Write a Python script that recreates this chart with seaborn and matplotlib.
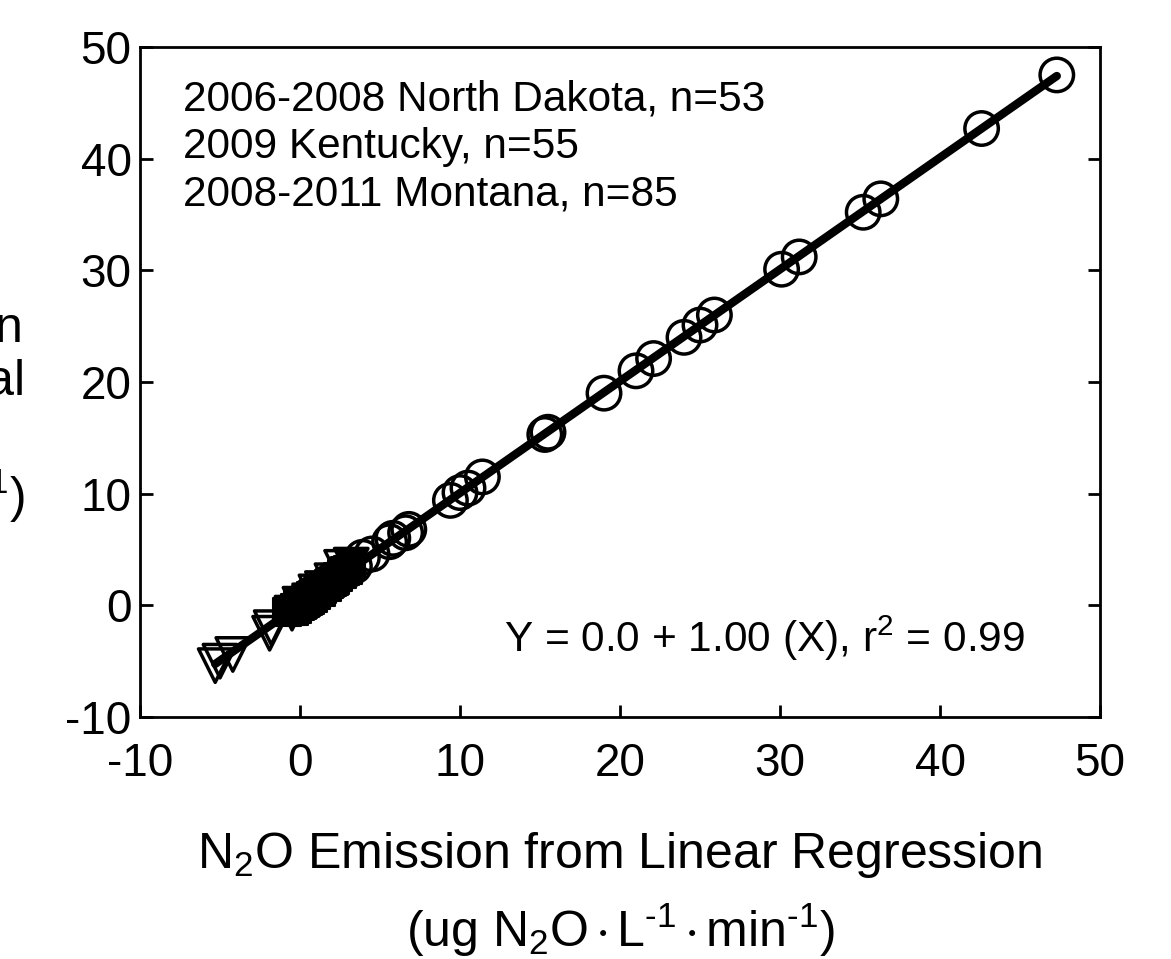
import numpy as np
import pandas as pd
import matplotlib
matplotlib.use("Agg")
import matplotlib.pyplot as plt
import seaborn as sns

# ---- data ----
mt_x = [47.3, 42.6, 36.3, 35.2, 31.2, 30.1, 25.9, 25.0, 24.0, 22.1, 21.0, 19.0,
        15.5, 15.3, 11.4, 10.5, 10.0, 9.4, 6.8, 6.6, 5.8, 5.6, 4.5, 3.9, 3.4,
        3.0, 2.6, 2.3, 2.0, 1.8, 1.6, 1.4, 1.2, 1.0, 0.8, 0.6, 0.4, 0.3, 0.2, 0.1, 0.0]
mt_y = [47.5, 42.7, 36.4, 35.2, 31.2, 30.1, 26.0, 25.1, 24.0, 22.1, 21.0, 19.0,
        15.5, 15.3, 11.5, 10.5, 10.1, 9.4, 6.8, 6.5, 6.0, 5.7, 4.6, 4.3, 3.5,
        3.1, 2.8, 2.4, 2.1, 2.0, 1.7, 1.5, 1.3, 1.1, 0.9, 0.7, 0.5, 0.4, 0.3, 0.2, 0.1]

ky_x = [-5.3, -5.0, -4.2, -1.8, -1.9, -0.5, 0.0, 0.2, 0.6, 1.0, 1.4, 2.0, 2.6, 3.2]
ky_y = [-5.4, -5.0, -4.4, -2.0, -2.5, -0.7, 0.1, 0.0, 0.4, 1.2, 1.5, 2.2, 3.4, 3.6]

nd_x = [-0.8, -0.6, -0.4, -0.3, -0.2, -0.1, 0.0, 0.0, 0.1, 0.1, 0.2, 0.2, 0.3, 0.3,
        0.4, 0.4, 0.5, 0.5, 0.6, 0.6, 0.7, 0.8, 0.8, 0.9, 1.0, 1.0, 1.1, 1.2,
        1.3, 1.4, 1.5, 1.6, 1.7, 1.8, 1.9, 2.0, 2.1, 2.2, 2.4, 2.6, 2.8, 3.0, 3.2]
nd_y = [-0.6, -0.5, -0.5, -0.2, -0.3, 0.0, 0.1, -0.1, 0.2, 0.0, 0.3, 0.1, 0.2, 0.4,
        0.5, 0.3, 0.6, 0.4, 0.7, 0.5, 0.8, 0.9, 0.7, 1.0, 1.1, 0.9, 1.2, 1.3,
        1.2, 1.5, 1.6, 1.7, 1.6, 1.9, 2.0, 2.1, 2.2, 2.3, 2.5, 2.8, 3.1, 3.2, 3.6]

site_lines = ["2006-2008 North Dakota, n=53", "2009 Kentucky, n=55", "2008-2011 Montana, n=85"]
equation = "Y = 0.0 + 1.00 (X), r$^2$ = 0.99"
x_ticks = [-10, 0, 10, 20, 30, 40, 50]
y_ticks = [-10, 0, 10, 20, 30, 40, 50]
xlabel1 = "N$_2$O Emission from Linear Regression"
unit_label = "(ug N$_2$O$\\,{\\cdot}\\,$L$^{\\text{-1}}\\,{\\cdot}\\,$min$^{\\text{-1}}$)"
ylabel_lines = ["N$_2$O Emission of", "Nonlinear Equation", "Best-Fit Polynomial",
                "Model", unit_label]

df = pd.concat([
    pd.DataFrame({"x": nd_x, "y": nd_y, "site": "North Dakota"}),
    pd.DataFrame({"x": ky_x, "y": ky_y, "site": "Kentucky"}),
    pd.DataFrame({"x": mt_x, "y": mt_y, "site": "Montana"}),
], ignore_index=True)

# ---- style ----
sns.set_theme(style="white")
plt.rcParams["font.family"] = ["Liberation Sans", "DejaVu Sans"]
plt.rcParams["axes.unicode_minus"] = False
plt.rcParams["mathtext.fontset"] = "custom"
plt.rcParams["mathtext.rm"] = "Liberation Sans"
plt.rcParams["mathtext.it"] = "Liberation Sans:italic"
plt.rcParams["mathtext.bf"] = "Liberation Sans:bold"
plt.rcParams["mathtext.sf"] = "Liberation Sans"
plt.rcParams["mathtext.default"] = "regular"

fig = plt.figure(figsize=(11.71, 9.59), dpi=100)
ax = fig.add_axes([140 / 1171, 1 - 717 / 959, 960 / 1171, 670 / 959])

sns.scatterplot(data=df[df.site == "North Dakota"], x="x", y="y", ax=ax,
                marker="s", s=420, color="black", edgecolor="black", linewidth=1.5,
                legend=False, zorder=2)
sns.scatterplot(data=df[df.site == "Kentucky"], x="x", y="y", ax=ax,
                marker="v", s=580, facecolor="none", edgecolor="black", linewidth=2.5,
                legend=False, zorder=3)
sns.scatterplot(data=df[df.site == "Montana"], x="x", y="y", ax=ax,
                marker="o", s=580, facecolor="none", edgecolor="black", linewidth=2.5,
                legend=False, zorder=3)
sns.regplot(data=df, x="x", y="y", ax=ax, scatter=False, ci=None, truncate=True,
            line_kws=dict(color="black", lw=6, zorder=4))

ax.set_xlim(-10, 50)
ax.set_ylim(-10, 50)
ax.set_xticks(x_ticks)
ax.set_yticks(y_ticks)
ax.set_xticklabels([str(t) for t in x_ticks])
ax.set_yticklabels([str(t) for t in y_ticks])
for sp in ax.spines.values():
    sp.set_visible(True)
    sp.set_color("black")
    sp.set_linewidth(2)
ax.tick_params(axis="both", direction="in", length=9, width=2, colors="black",
               labelsize=33, top=False, right=True, bottom=True, left=True)
ax.tick_params(axis="x", pad=18)
ax.tick_params(axis="y", pad=6)
ax.set_xlabel("")
ax.set_ylabel("")

ax.text(0.5, (717 - 855) / 670, xlabel1, transform=ax.transAxes,
        ha="center", va="center", fontsize=36, color="black")
ax.text(0.5, (717 - 930) / 670, unit_label, transform=ax.transAxes,
        ha="center", va="center", fontsize=36, color="black")

for i, t in enumerate(site_lines):
    ax.text((183 - 140) / 960, (717 - (100 + 47.5 * i)) / 670, t,
            transform=ax.transAxes, ha="left", va="center", fontsize=30.5, color="black")

ax.text((1025 - 140) / 960, (717 - 638) / 670, equation, transform=ax.transAxes,
        ha="right", va="center", fontsize=30.5, color="black")

fig.text(-190 / 1171, 1 - 388 / 959, "\n".join(ylabel_lines), ha="center", va="center",
         multialignment="center", fontsize=36, linespacing=1.2, color="black")

fig.savefig("out.png", dpi=100)
